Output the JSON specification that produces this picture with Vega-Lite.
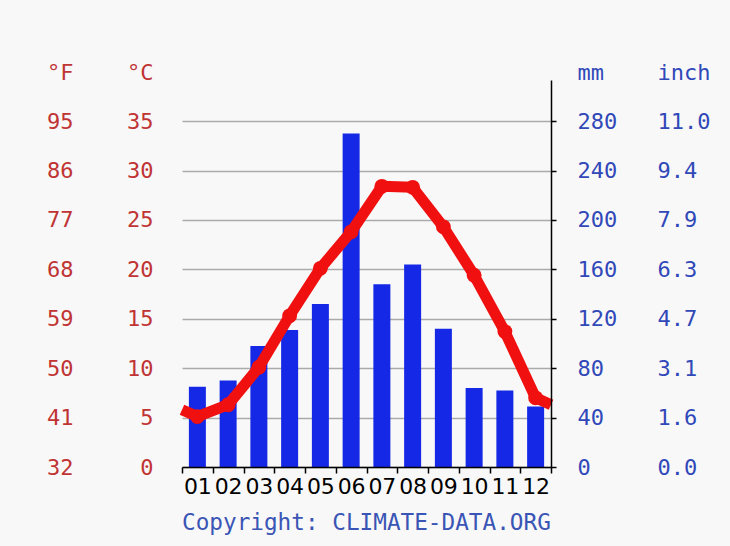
{
  "$schema": "https://vega.github.io/schema/vega-lite/v6.json",
  "width": 369,
  "height": 387,
  "autosize": {"type": "none"},
  "padding": {"left": 182, "top": 80, "right": 179, "bottom": 79},
  "background": "#f8f8f8",
  "title": {
    "text": "Copyright: CLIMATE-DATA.ORG",
    "orient": "bottom",
    "anchor": "start",
    "frame": "group",
    "font": "DejaVu Sans Mono",
    "fontSize": 22.7,
    "fontWeight": "normal",
    "color": "#3a55b5",
    "offset": 15
  },
  "datasets": {
    "months": [
      {"month": "01", "m": 1, "precip": 65, "temp": 5.1},
      {"month": "02", "m": 2, "precip": 70, "temp": 6.3},
      {"month": "03", "m": 3, "precip": 98, "temp": 10.1},
      {"month": "04", "m": 4, "precip": 111, "temp": 15.3},
      {"month": "05", "m": 5, "precip": 132, "temp": 20.1},
      {"month": "06", "m": 6, "precip": 270, "temp": 23.8},
      {"month": "07", "m": 7, "precip": 148, "temp": 28.4},
      {"month": "08", "m": 8, "precip": 164, "temp": 28.3},
      {"month": "09", "m": 9, "precip": 112, "temp": 24.3},
      {"month": "10", "m": 10, "precip": 64, "temp": 19.4},
      {"month": "11", "m": 11, "precip": 62, "temp": 13.7},
      {"month": "12", "m": 12, "precip": 49, "temp": 7.0}
    ],
    "line": [
      {"pos": 0.5, "temp": 5.8},
      {"pos": 1, "temp": 5.1},
      {"pos": 2, "temp": 6.3},
      {"pos": 3, "temp": 10.1},
      {"pos": 4, "temp": 15.3},
      {"pos": 5, "temp": 20.1},
      {"pos": 6, "temp": 23.8},
      {"pos": 7, "temp": 28.4},
      {"pos": 8, "temp": 28.3},
      {"pos": 9, "temp": 24.3},
      {"pos": 10, "temp": 19.4},
      {"pos": 11, "temp": 13.7},
      {"pos": 12, "temp": 7.0},
      {"pos": 12.5, "temp": 6.3}
    ]
  },
  "config": {
    "view": {"stroke": null},
    "axis": {
      "labelFont": "DejaVu Sans Mono",
      "labelFontSize": 22,
      "titleFont": "DejaVu Sans Mono",
      "titleFontSize": 22,
      "titleFontWeight": "normal"
    }
  },
  "layer": [
    {
      "data": {"name": "months"},
      "mark": {"type": "bar", "color": "#1428e6", "size": 17},
      "encoding": {
        "x": {
          "field": "month",
          "type": "nominal",
          "scale": {"paddingInner": 0, "paddingOuter": 0},
          "axis": {
            "orient": "bottom",
            "title": null,
            "labelAngle": 0,
            "labelFont": "DejaVu Sans",
            "labelFontSize": 22,
            "labelColor": "#000000",
            "tickBand": "extent",
            "domainColor": "#000000",
            "domainWidth": 1.5,
            "tickColor": "#000000",
            "tickWidth": 1.5,
            "tickSize": 6,
            "labelPadding": 3,
            "grid": false,
            "zindex": 1
          }
        },
        "y": {
          "field": "precip",
          "type": "quantitative",
          "scale": {"domain": [0, 313.3], "nice": false},
          "axis": {
            "orient": "right",
            "values": [0, 40, 80, 120, 160, 200, 240, 280],
            "title": "mm",
            "titleAngle": 0,
            "titleX": 26,
            "titleY": -8,
            "titleAlign": "left",
            "titleBaseline": "middle",
            "titleColor": "#3048b8",
            "labelColor": "#3048b8",
            "domainColor": "#000000",
            "domainWidth": 1.5,
            "tickColor": "#000000",
            "tickWidth": 1.5,
            "tickSize": 5,
            "labelPadding": 21,
            "grid": false,
            "zindex": 1
          }
        }
      }
    },
    {
      "data": {"name": "months"},
      "mark": {"type": "bar", "opacity": 0, "size": 17},
      "encoding": {
        "x": {
          "field": "month",
          "type": "nominal",
          "scale": {"paddingInner": 0, "paddingOuter": 0},
          "axis": null
        },
        "y": {
          "field": "precip",
          "type": "quantitative",
          "scale": {"domain": [0, 313.3], "nice": false},
          "axis": {
            "orient": "right",
            "values": [0, 40, 80, 120, 160, 200, 240, 280],
            "labelExpr": "format(datum.value / 25.4, '.1f')",
            "title": "inch",
            "titleAngle": 0,
            "titleX": 106,
            "titleY": -8,
            "titleAlign": "left",
            "titleBaseline": "middle",
            "titleColor": "#3048b8",
            "labelColor": "#3048b8",
            "domain": false,
            "ticks": false,
            "tickSize": 0,
            "labelPadding": 106,
            "grid": false
          }
        }
      }
    },
    {
      "data": {"name": "line"},
      "mark": {"type": "line", "color": "#f01010", "strokeWidth": 11, "strokeJoin": "round", "strokeCap": "butt"},
      "encoding": {
        "x": {
          "field": "pos",
          "type": "quantitative",
          "scale": {"domain": [0.5, 12.5], "nice": false, "zero": false},
          "axis": null
        },
        "y": {
          "field": "temp",
          "type": "quantitative",
          "scale": {"domain": [0, 39.16], "nice": false},
          "axis": {
            "orient": "left",
            "values": [0, 5, 10, 15, 20, 25, 30, 35],
            "title": "°C",
            "titleAngle": 0,
            "titleX": -29,
            "titleY": -8,
            "titleAlign": "right",
            "titleBaseline": "middle",
            "titleColor": "#c03434",
            "labelColor": "#c03434",
            "domain": false,
            "ticks": false,
            "tickSize": 0,
            "labelPadding": 29,
            "grid": true,
            "gridColor": "#aaaaaa",
            "gridWidth": 1.5
          }
        }
      }
    },
    {
      "data": {"name": "months"},
      "mark": {"type": "point", "filled": true, "color": "#f01010", "size": 220, "opacity": 1},
      "encoding": {
        "x": {
          "field": "m",
          "type": "quantitative",
          "scale": {"domain": [0.5, 12.5], "nice": false, "zero": false},
          "axis": null
        },
        "y": {
          "field": "temp",
          "type": "quantitative",
          "scale": {"domain": [0, 39.16], "nice": false},
          "axis": {
            "orient": "left",
            "values": [0, 5, 10, 15, 20, 25, 30, 35],
            "labelExpr": "format(datum.value * 9 / 5 + 32, 'd')",
            "title": "°F",
            "titleAngle": 0,
            "titleX": -109,
            "titleY": -8,
            "titleAlign": "right",
            "titleBaseline": "middle",
            "titleColor": "#c03434",
            "labelColor": "#c03434",
            "domain": false,
            "ticks": false,
            "tickSize": 0,
            "labelPadding": 109,
            "grid": false
          }
        }
      }
    }
  ],
  "resolve": {
    "scale": {"x": "independent", "y": "independent"},
    "axis": {"x": "independent", "y": "independent"}
  }
}
